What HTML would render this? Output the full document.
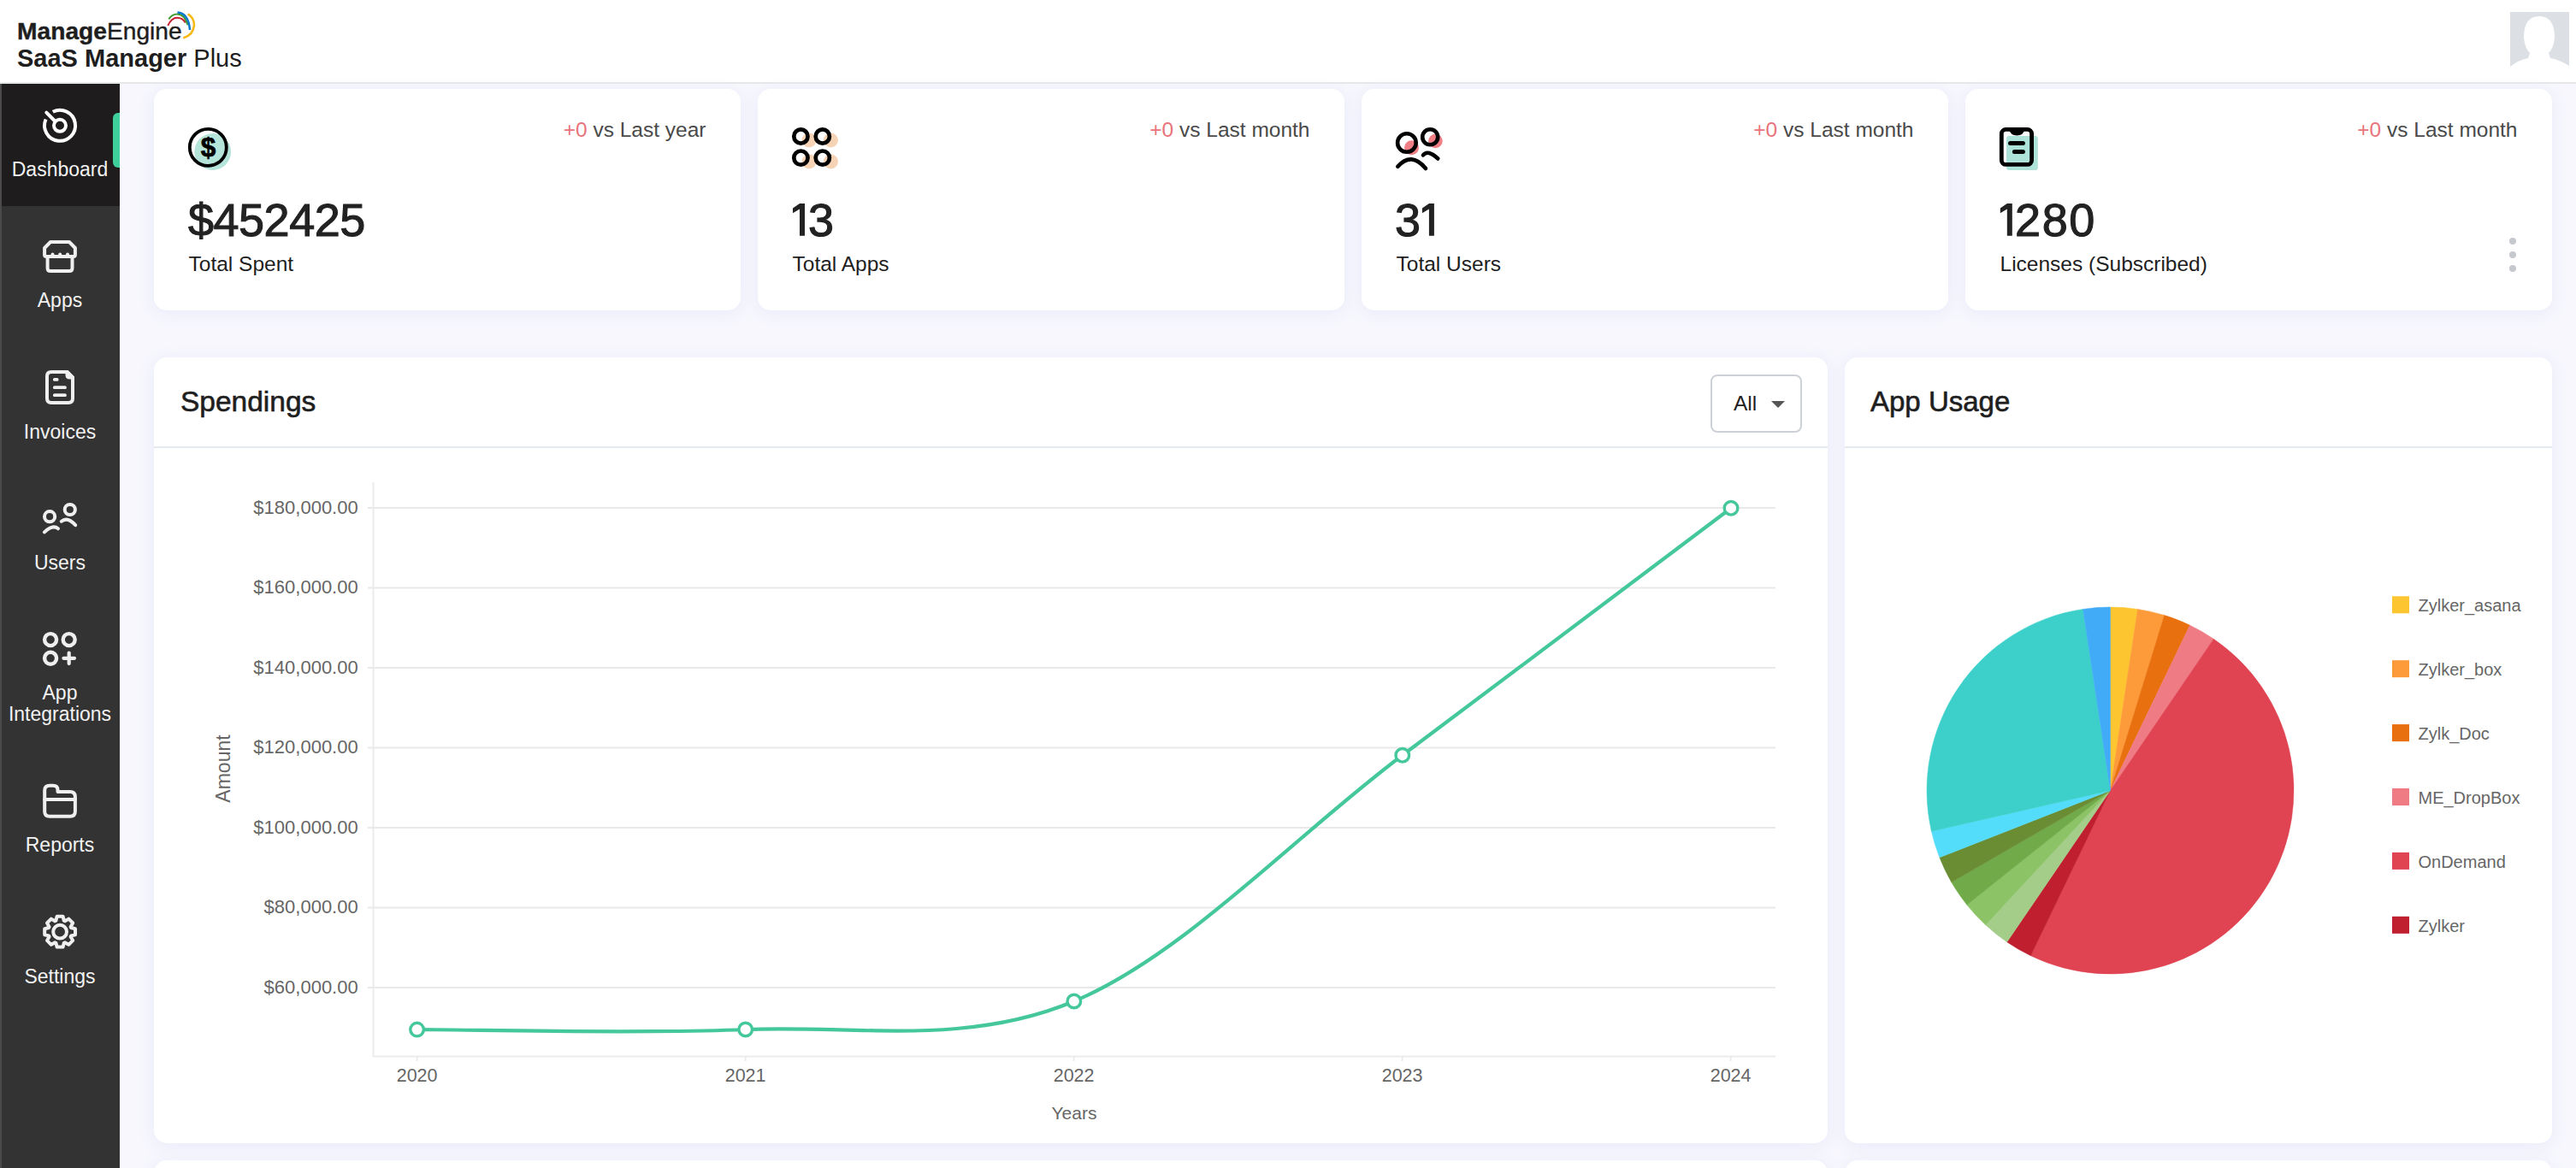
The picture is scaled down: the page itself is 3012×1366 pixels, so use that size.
<!DOCTYPE html>
<html><head><meta charset="utf-8"><style>
html,body{margin:0;padding:0;width:3012px;height:1366px;overflow:hidden;background:#f7f7fd;font-family:"Liberation Sans", sans-serif;}
.t{position:absolute;white-space:nowrap;line-height:1;}
</style></head><body>
<div style="position:absolute;left:0.0px;top:0.0px;width:3012.0px;height:96.0px;background:#fff;"></div>
<div style="position:absolute;left:0.0px;top:96.0px;width:3012.0px;height:2.0px;background:#e6e8e8;"></div>
<div class="t" style="left:20.0px;top:21.5px;font-size:28.2px;color:#1e1e1e;font-weight:normal;-webkit-text-stroke:0.4px #1e1e1e;"><b>Manage</b>Engine</div>
<div class="t" style="left:20.0px;top:54.3px;font-size:29.0px;color:#1e1e1e;font-weight:normal;"><b>SaaS Manager</b> Plus</div>
<svg style="position:absolute;left:190px;top:8px" width="45" height="42" viewBox="190 8 45 42">
<path d="M196.3 30 Q200.5 20.8 207 20.8 Q213.5 20.8 216.8 26.6" fill="none" stroke="#c8202f" stroke-width="2"/>
<path d="M197.3 22.4 Q201.5 16.6 207.2 16.6 Q215.5 16.6 219.5 29.3" fill="none" stroke="#3f9a2d" stroke-width="2"/>
<path d="M207.5 14.4 Q220.5 15.5 222 35" fill="none" stroke="#0a78c8" stroke-width="2.5"/>
<path d="M219.7 16.3 Q227.3 21 227 29.7 Q226 41 214.3 44.5" fill="none" stroke="#f7b916" stroke-width="2.6"/>
</svg>
<svg style="position:absolute;left:2935px;top:14px" width="69" height="69" viewBox="0 0 69 69">
<rect x="0" y="0" width="69" height="69" fill="#dcdfe4"/>
<path d="M0 64 Q10 56 21 54 L23 48 Q17 42 16 30 Q16 5 34 5 Q52 5 52 30 Q51 42 45 48 L47 54 Q58 56 69 63 V69 H0 Z" fill="#fff"/>
</svg>
<div style="position:absolute;left:0.0px;top:98.0px;width:140.0px;height:1268.0px;background:#333333;"></div>
<div style="position:absolute;left:0.0px;top:98.0px;width:140.0px;height:143.0px;background:#1e1c1d;"></div>
<div style="position:absolute;left:0.0px;top:98.0px;width:1.5px;height:1268.0px;background:#4a4a4a;"></div>
<div style="position:absolute;left:132.0px;top:132.0px;width:8.0px;height:64.0px;background:#3fcf9c;border-radius:6px 0 0 6px;"></div>
<svg style="position:absolute;left:30px;top:106px" width="80" height="80" viewBox="0 0 80 80" fill="none" stroke="#ffffff" stroke-width="4" stroke-linecap="round" stroke-linejoin="round"><path d="M31.8 24.8 A18 18 0 1 1 23.6 33.5" stroke-linecap="butt"/><circle cx="40" cy="40.8" r="7"/><path d="M33.6 35 L24.3 25.7"/></svg>
<svg style="position:absolute;left:30px;top:260px" width="80" height="80" viewBox="0 0 80 80" fill="none" stroke="#efefef" stroke-width="4" stroke-linecap="round" stroke-linejoin="round"><path d="M29 23 H51 L57.9 30 V38 Q57.9 40 56 40 H24 Q22.1 40 22.1 38 V30 Z"/><path d="M31.5 40 V37.5 M40.2 40 V37.5 M49 40 V37.5"/><path d="M25.6 40 V53.5 Q25.6 57 29 57 H51 Q54.5 57 54.5 53.5 V40"/></svg>
<svg style="position:absolute;left:30px;top:410px" width="80" height="80" viewBox="0 0 80 80" fill="none" stroke="#efefef" stroke-width="4" stroke-linecap="round" stroke-linejoin="round"><path d="M30 25 H48.5 L55 31.5 V56 Q55 61 50 61 H30 Q25 61 25 56 V30 Q25 25 30 25 Z"/><path d="M48.5 25 V28.5 Q48.5 31.5 51.5 31.5 H55 Z" fill="#efefef"/><path d="M33.8 33.9 H36.7 M33.8 43.2 H46 M33.8 52.2 H46" stroke-width="3.8"/></svg>
<svg style="position:absolute;left:30px;top:570px" width="80" height="80" viewBox="0 0 80 80" fill="none" stroke="#efefef" stroke-width="4" stroke-linecap="round" stroke-linejoin="round"><circle cx="28.1" cy="34.2" r="6.1"/><circle cx="51.8" cy="26" r="6.1"/><path d="M21.9 52.4 Q31.6 42.9 38 48.3"/><path d="M41.8 39.7 Q49 34 58.2 44.2"/></svg>
<svg style="position:absolute;left:30px;top:720px" width="80" height="80" viewBox="0 0 80 80" fill="none" stroke="#efefef" stroke-width="4" stroke-linecap="round" stroke-linejoin="round"><circle cx="29.1" cy="28.1" r="7" stroke-width="4.4"/><circle cx="50.7" cy="28.1" r="7" stroke-width="4.4"/><circle cx="29.1" cy="49.8" r="7" stroke-width="4.4"/><path d="M44.4 49.8 H57 M50.7 43.5 V56.1" stroke-width="4.2"/></svg>
<svg style="position:absolute;left:30px;top:900px" width="80" height="80" viewBox="0 0 80 80" fill="none" stroke="#efefef" stroke-width="4" stroke-linecap="round" stroke-linejoin="round"><path d="M22.2 49 V24.5 Q22.2 18.8 28 18.8 H32 Q37.5 18.8 37.5 24 V26 H52 Q57.9 26 57.9 32 V49 Q57.9 54.8 52 54.8 H28 Q22.2 54.8 22.2 49 Z"/><path d="M22.2 35 H57.9"/></svg>
<svg style="position:absolute;left:30px;top:1050px" width="80" height="80" viewBox="0 0 80 80" fill="none" stroke="#efefef" stroke-width="4" stroke-linecap="round" stroke-linejoin="round"><path d="M35.4 26.7 L36.6 21.8 L43.6 21.8 L44.8 26.7 L45.9 27.2 L50.3 24.6 L55.2 29.5 L52.6 33.9 L53.1 35.0 L58.0 36.2 L58.0 43.2 L53.1 44.4 L52.6 45.5 L55.2 49.9 L50.3 54.8 L45.9 52.2 L44.8 52.7 L43.6 57.6 L36.6 57.6 L35.4 52.7 L34.3 52.2 L29.9 54.8 L25.0 49.9 L27.6 45.5 L27.1 44.4 L22.2 43.2 L22.2 36.2 L27.1 35.0 L27.6 33.9 L25.0 29.5 L29.9 24.6 L34.3 27.2 Z"/><circle cx="40.1" cy="39.7" r="7.9"/></svg>
<div class="t" style="left:70.0px;transform:translateX(-50%);top:186.5px;font-size:23.0px;color:#f2f2f2;font-weight:normal;">Dashboard</div>
<div class="t" style="left:70.0px;transform:translateX(-50%);top:340.0px;font-size:23.0px;color:#f2f2f2;font-weight:normal;">Apps</div>
<div class="t" style="left:70.0px;transform:translateX(-50%);top:493.5px;font-size:23.0px;color:#f2f2f2;font-weight:normal;">Invoices</div>
<div class="t" style="left:70.0px;transform:translateX(-50%);top:647.0px;font-size:23.0px;color:#f2f2f2;font-weight:normal;">Users</div>
<div class="t" style="left:70.0px;transform:translateX(-50%);top:798.5px;font-size:23.0px;color:#f2f2f2;font-weight:normal;">App</div>
<div class="t" style="left:70.0px;transform:translateX(-50%);top:823.5px;font-size:23.0px;color:#f2f2f2;font-weight:normal;">Integrations</div>
<div class="t" style="left:70.0px;transform:translateX(-50%);top:977.0px;font-size:23.0px;color:#f2f2f2;font-weight:normal;">Reports</div>
<div class="t" style="left:70.0px;transform:translateX(-50%);top:1130.5px;font-size:23.0px;color:#f2f2f2;font-weight:normal;">Settings</div>
<div style="position:absolute;left:140.0px;top:98.0px;width:2872.0px;height:1268.0px;background:#f7f7fd;"></div>
<div style="position:absolute;left:180.0px;top:104.0px;width:685.5px;height:259.0px;background:#fff;border-radius:15px;box-shadow:0 3px 18px rgba(218,218,250,0.42);"></div>
<div style="position:absolute;left:886.0px;top:104.0px;width:685.5px;height:259.0px;background:#fff;border-radius:15px;box-shadow:0 3px 18px rgba(218,218,250,0.42);"></div>
<div style="position:absolute;left:1592.0px;top:104.0px;width:685.5px;height:259.0px;background:#fff;border-radius:15px;box-shadow:0 3px 18px rgba(218,218,250,0.42);"></div>
<div style="position:absolute;left:2298.0px;top:104.0px;width:685.5px;height:259.0px;background:#fff;border-radius:15px;box-shadow:0 3px 18px rgba(218,218,250,0.42);"></div>
<div class="t" style="right:2186.5px;top:140.1px;font-size:24.5px;color:#4a4a4a;font-weight:normal;"><span style="color:#e9737a">+0</span> vs Last year</div>
<div class="t" style="left:220.0px;top:230.1px;font-size:54.0px;color:#222;font-weight:normal;-webkit-text-stroke:1.1px #222;letter-spacing:-0.5px;">$452425</div>
<div class="t" style="left:220.5px;top:297.3px;font-size:24.5px;color:#1e1e1e;font-weight:normal;">Total Spent</div>
<div class="t" style="right:1480.5px;top:140.1px;font-size:24.5px;color:#4a4a4a;font-weight:normal;"><span style="color:#e9737a">+0</span> vs Last month</div>
<div class="t" style="left:945.0px;top:230.1px;font-size:54.0px;color:#222;font-weight:normal;-webkit-text-stroke:1.1px #222;">3</div>
<div class="t" style="left:926.5px;top:297.3px;font-size:24.5px;color:#1e1e1e;font-weight:normal;">Total Apps</div>
<div class="t" style="right:774.5px;top:140.1px;font-size:24.5px;color:#4a4a4a;font-weight:normal;"><span style="color:#e9737a">+0</span> vs Last month</div>
<div class="t" style="left:1631.0px;top:230.1px;font-size:54.0px;color:#222;font-weight:normal;-webkit-text-stroke:1.1px #222;">3</div>
<div class="t" style="left:1632.5px;top:297.3px;font-size:24.5px;color:#1e1e1e;font-weight:normal;">Total Users</div>
<div class="t" style="right:68.5px;top:140.1px;font-size:24.5px;color:#4a4a4a;font-weight:normal;"><span style="color:#e9737a">+0</span> vs Last month</div>
<div class="t" style="left:2356.0px;top:230.1px;font-size:54.0px;color:#222;font-weight:normal;-webkit-text-stroke:1.1px #222;letter-spacing:1.6px;">280</div>
<div class="t" style="left:2338.5px;top:297.3px;font-size:24.5px;color:#1e1e1e;font-weight:normal;">Licenses (Subscribed)</div>
<svg style="position:absolute;left:0;top:0" width="3012" height="300"><path fill="#222" d="M935.0 238 H941.0 V275.7 H935.0 V244.6 L927.0 249.3 V243.4 Z"/></svg>
<svg style="position:absolute;left:0;top:0" width="3012" height="300"><path fill="#222" d="M1670.9 238 H1676.9 V275.7 H1670.9 V244.6 L1662.9 249.3 V243.4 Z"/></svg>
<svg style="position:absolute;left:0;top:0" width="3012" height="300"><path fill="#222" d="M2346.8 238 H2352.8 V275.7 H2346.8 V244.6 L2338.8 249.3 V243.4 Z"/></svg>
<svg style="position:absolute;left:0;top:0" width="3012" height="400" viewBox="0 0 3012 400">
<circle cx="248.7" cy="177.5" r="21.4" fill="#b5e4da"/>
<circle cx="243.3" cy="172.4" r="21.5" fill="none" stroke="#000" stroke-width="3.8"/>
<g fill="#f5d3b4"><circle cx="946" cy="164" r="8.5"/><circle cx="971.4" cy="164" r="8.5"/><circle cx="946" cy="189.1" r="8.5"/><circle cx="971.4" cy="189.1" r="8.5"/></g>
<g fill="none" stroke="#000" stroke-width="4.7"><circle cx="936.4" cy="159.5" r="8.1"/><circle cx="961.8" cy="159.5" r="8.1"/><circle cx="936.4" cy="184.6" r="8.1"/><circle cx="961.8" cy="184.6" r="8.1"/></g>
<g fill="#ef7e85"><circle cx="1650.5" cy="172.8" r="8.5"/><circle cx="1678.4" cy="165" r="8.3"/></g>
<g fill="none" stroke="#000" stroke-width="4.6" stroke-linecap="round"><circle cx="1644.9" cy="167" r="10.8"/><circle cx="1672.2" cy="160.2" r="9"/>
<path d="M1634.3 194.8 Q1650.2 176.9 1667 197"/><path d="M1664 181.4 Q1669.5 174.5 1681.3 185.5"/></g>
<path d="M2348 158.9 H2380.8 L2382.8 160.9 V197 L2380.8 199 H2348 L2346 197 V160.9 Z" fill="#aee3da"/>
<rect x="2340.3" y="151.4" width="35.3" height="41" rx="5" fill="none" stroke="#000" stroke-width="4.8"/>
<path d="M2349 151 H2367.6 Q2366 158.5 2358.3 158.5 Q2350.6 158.5 2349 151 Z" fill="#000"/>
<g stroke="#000" stroke-width="5" stroke-linecap="round"><path d="M2350.5 167.6 H2365.4"/><path d="M2355.4 177.5 H2365.4"/></g>
<g fill="#c5c8ce"><circle cx="2938" cy="282" r="4"/><circle cx="2938" cy="298" r="4"/><circle cx="2938" cy="314" r="4"/></g>
</svg>
<div class="t" style="left:234.8px;top:156.5px;font-size:31.5px;color:#000;font-weight:bold;-webkit-text-stroke:0.7px #000;">$</div>
<div style="position:absolute;left:180.0px;top:418.0px;width:1957.0px;height:919.0px;background:#fff;border-radius:15px;box-shadow:0 3px 18px rgba(218,218,250,0.42);"></div>
<div style="position:absolute;left:2157.0px;top:418.0px;width:826.5px;height:919.0px;background:#fff;border-radius:15px;box-shadow:0 3px 18px rgba(218,218,250,0.42);"></div>
<div style="position:absolute;left:180.0px;top:522.0px;width:1957.0px;height:2.0px;background:#e4e9f0;"></div>
<div style="position:absolute;left:2157.0px;top:522.0px;width:826.5px;height:2.0px;background:#e4e9f0;"></div>
<div style="position:absolute;left:180.0px;top:1357.0px;width:1957.0px;height:100.0px;background:#fff;border-radius:15px;box-shadow:0 3px 18px rgba(218,218,250,0.42);"></div>
<div style="position:absolute;left:2157.0px;top:1357.0px;width:826.5px;height:100.0px;background:#fff;border-radius:15px;box-shadow:0 3px 18px rgba(218,218,250,0.42);"></div>
<div class="t" style="left:211.0px;top:452.6px;font-size:33.5px;color:#1e1e1e;font-weight:normal;-webkit-text-stroke:0.6px #1e1e1e;">Spendings</div>
<div class="t" style="left:2187.0px;top:453.1px;font-size:33.0px;color:#1e1e1e;font-weight:normal;-webkit-text-stroke:0.6px #1e1e1e;">App Usage</div>
<div style="position:absolute;left:2000.0px;top:438.0px;width:106.5px;height:68.0px;box-sizing:border-box;border:2px solid #cdd0d6;border-radius:8px;background:#fff;"></div>
<div class="t" style="left:2027.0px;top:460.3px;font-size:24.5px;color:#1e1e1e;font-weight:normal;">All</div>
<svg style="position:absolute;left:2071px;top:469px" width="16" height="8" viewBox="0 0 16 8"><path d="M0 0 H16 L8 8 Z" fill="#555"/></svg>
<svg style="position:absolute;left:0;top:0" width="3012" height="1366" viewBox="0 0 3012 1366">
<path d="M430 594.0 H2076" stroke="#e9e9e9" stroke-width="2"/><path d="M430 687.5 H2076" stroke="#e9e9e9" stroke-width="2"/><path d="M430 781.0 H2076" stroke="#e9e9e9" stroke-width="2"/><path d="M430 874.5 H2076" stroke="#e9e9e9" stroke-width="2"/><path d="M430 968.0 H2076" stroke="#e9e9e9" stroke-width="2"/><path d="M430 1061.5 H2076" stroke="#e9e9e9" stroke-width="2"/><path d="M430 1155.0 H2076" stroke="#e9e9e9" stroke-width="2"/>
<path d="M436.5 564 V1236" stroke="#ebebeb" stroke-width="2"/>
<path d="M436.5 1235.5 H2076" stroke="#ebebeb" stroke-width="2"/>
<g stroke="#ebebeb" stroke-width="2"><path d="M487.6 1236 V1241"/><path d="M871.6 1236 V1241"/><path d="M1255.6 1236 V1241"/><path d="M1639.6 1236 V1241"/><path d="M2023.6 1236 V1241"/></g>
<path d="M487.6 1204.1 C551.6 1204.1 743.7 1209.5 871.7 1204.0 C999.7 1198.5 1127.8 1224.5 1255.8 1171.0 C1383.8 1117.5 1511.8 979.4 1639.8 883.3 C1767.8 787.2 1960.0 642.5 2024.0 594.3" fill="none" stroke="#44c89b" stroke-width="4.2"/>
<g fill="#fff" stroke="#44c89b" stroke-width="3.4"><circle cx="487.6" cy="1204.1" r="7.8"/><circle cx="871.7" cy="1204" r="7.8"/><circle cx="1255.8" cy="1171" r="7.8"/><circle cx="1639.8" cy="883.3" r="7.8"/><circle cx="2024" cy="594.3" r="7.8"/></g>
<path fill="#fdc630" stroke="#fdc630" stroke-width="0.5" d="M2467.5 924.5 L2467.50 710.00 A214.5 214.5 0 0 1 2499.47 712.40 Z"/><path fill="#fd9b3a" stroke="#fd9b3a" stroke-width="0.5" d="M2467.5 924.5 L2499.47 712.40 A214.5 214.5 0 0 1 2530.72 719.53 Z"/><path fill="#e9700f" stroke="#e9700f" stroke-width="0.5" d="M2467.5 924.5 L2530.72 719.53 A214.5 214.5 0 0 1 2560.57 731.24 Z"/><path fill="#ef7b84" stroke="#ef7b84" stroke-width="0.5" d="M2467.5 924.5 L2560.57 731.24 A214.5 214.5 0 0 1 2588.33 747.27 Z"/><path fill="#e04453" stroke="#e04453" stroke-width="0.5" d="M2467.5 924.5 L2588.33 747.27 A214.5 214.5 0 0 1 2374.43 1117.76 Z"/><path fill="#c01f2f" stroke="#c01f2f" stroke-width="0.5" d="M2467.5 924.5 L2374.43 1117.76 A214.5 214.5 0 0 1 2346.67 1101.73 Z"/><path fill="#a3cd88" stroke="#a3cd88" stroke-width="0.5" d="M2467.5 924.5 L2346.67 1101.73 A214.5 214.5 0 0 1 2321.60 1081.74 Z"/><path fill="#8bc366" stroke="#8bc366" stroke-width="0.5" d="M2467.5 924.5 L2321.60 1081.74 A214.5 214.5 0 0 1 2299.80 1058.24 Z"/><path fill="#71ab49" stroke="#71ab49" stroke-width="0.5" d="M2467.5 924.5 L2299.80 1058.24 A214.5 214.5 0 0 1 2281.74 1031.75 Z"/><path fill="#6a8c33" stroke="#6a8c33" stroke-width="0.5" d="M2467.5 924.5 L2281.74 1031.75 A214.5 214.5 0 0 1 2267.83 1002.87 Z"/><path fill="#54dcfb" stroke="#54dcfb" stroke-width="0.5" d="M2467.5 924.5 L2267.83 1002.87 A214.5 214.5 0 0 1 2258.38 972.23 Z"/><path fill="#3dd0ca" stroke="#3dd0ca" stroke-width="0.5" d="M2467.5 924.5 L2258.38 972.23 A214.5 214.5 0 0 1 2435.53 712.40 Z"/><path fill="#42abf8" stroke="#42abf8" stroke-width="0.5" d="M2467.5 924.5 L2435.53 712.40 A214.5 214.5 0 0 1 2467.50 710.00 Z"/><rect x="2797" y="697.3" width="20" height="20" fill="#fdc630"/><rect x="2797" y="772.2" width="20" height="20" fill="#fd9b3a"/><rect x="2797" y="847.1" width="20" height="20" fill="#e9700f"/><rect x="2797" y="922.0" width="20" height="20" fill="#ef7b84"/><rect x="2797" y="996.9" width="20" height="20" fill="#e04453"/><rect x="2797" y="1071.8" width="20" height="20" fill="#c01f2f"/></svg>
<div class="t" style="left:2827.5px;top:698.1px;font-size:20.0px;color:#666;font-weight:normal;">Zylker_asana</div>
<div class="t" style="left:2827.5px;top:773.0px;font-size:20.0px;color:#666;font-weight:normal;">Zylker_box</div>
<div class="t" style="left:2827.5px;top:847.9px;font-size:20.0px;color:#666;font-weight:normal;">Zylk_Doc</div>
<div class="t" style="left:2827.5px;top:922.8px;font-size:20.0px;color:#666;font-weight:normal;">ME_DropBox</div>
<div class="t" style="left:2827.5px;top:997.7px;font-size:20.0px;color:#666;font-weight:normal;">OnDemand</div>
<div class="t" style="left:2827.5px;top:1072.6px;font-size:20.0px;color:#666;font-weight:normal;">Zylker</div>
<div class="t" style="right:2593.3px;top:582.6px;font-size:22.0px;color:#666;font-weight:normal;">$180,000.00</div>
<div class="t" style="right:2593.3px;top:676.1px;font-size:22.0px;color:#666;font-weight:normal;">$160,000.00</div>
<div class="t" style="right:2593.3px;top:769.6px;font-size:22.0px;color:#666;font-weight:normal;">$140,000.00</div>
<div class="t" style="right:2593.3px;top:863.1px;font-size:22.0px;color:#666;font-weight:normal;">$120,000.00</div>
<div class="t" style="right:2593.3px;top:956.6px;font-size:22.0px;color:#666;font-weight:normal;">$100,000.00</div>
<div class="t" style="right:2593.3px;top:1050.1px;font-size:22.0px;color:#666;font-weight:normal;">$80,000.00</div>
<div class="t" style="right:2593.3px;top:1143.6px;font-size:22.0px;color:#666;font-weight:normal;">$60,000.00</div>
<div class="t" style="left:487.6px;transform:translateX(-50%);top:1248.1px;font-size:21.5px;color:#666;font-weight:normal;">2020</div>
<div class="t" style="left:871.6px;transform:translateX(-50%);top:1248.1px;font-size:21.5px;color:#666;font-weight:normal;">2021</div>
<div class="t" style="left:1255.6px;transform:translateX(-50%);top:1248.1px;font-size:21.5px;color:#666;font-weight:normal;">2022</div>
<div class="t" style="left:1639.6px;transform:translateX(-50%);top:1248.1px;font-size:21.5px;color:#666;font-weight:normal;">2023</div>
<div class="t" style="left:2023.6px;transform:translateX(-50%);top:1248.1px;font-size:21.5px;color:#666;font-weight:normal;">2024</div>
<div class="t" style="left:1256.0px;transform:translateX(-50%);top:1291.2px;font-size:21.0px;color:#666;font-weight:normal;">Years</div>
<div class="t" style="left:261px;top:899px;font-size:23px;color:#666;transform:translate(-50%,-50%) rotate(-90deg);">Amount</div>
</body></html>
